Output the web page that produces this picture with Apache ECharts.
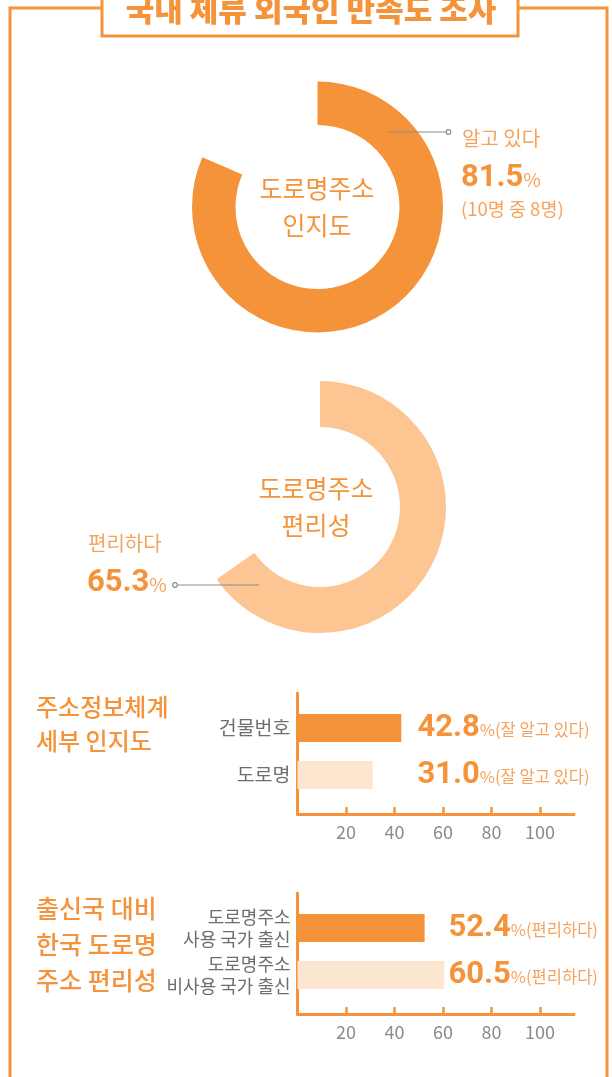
<!DOCTYPE html>
<html>
<head>
<meta charset="utf-8">
<script src="https://cdn.jsdelivr.net/npm/echarts@6/dist/echarts.min.js"></script>
<style>
  html, body { margin: 0; padding: 0; background: #fff; }
  #chart { width: 612px; height: 1077px; }
</style>
</head>
<body>
<div id="chart"></div>
<script>
  // 데이터
  var awareness = [81.5, 18.5];          // 도로명주소 인지도: 알고 있다 / 나머지
  var awarenessNote = '(10명 중 8명)';
  var convenience = [65.3, 34.7];        // 도로명주소 편리성: 편리하다 / 나머지
  var detailCats = ['건물번호', '도로명'];
  var detailValues = [42.8, 31.0];
  var detailSuffix = '잘 알고 있다';
  var originCats = ['도로명주소\n사용 국가 출신', '도로명주소\n비사용 국가 출신'];
  var originValues = [52.4, 60.5];
  var originSuffix = '편리하다';
  var xTicks = [20, 40, 60, 80, 100];

  var ORANGE = '#F5933A';
  var LIGHT = '#FCC592';
  var PALE = '#FDE6CF';
  var SOFT = '#F5A35C';
  var GRAY = '#6e6e6e';
  var FONT = '"Noto Sans CJK KR", "Noto Sans", sans-serif';
  var NUM = 'Roboto, "Noto Sans CJK KR", sans-serif';

  var myChart = echarts.init(document.getElementById('chart'), null, {renderer: 'canvas'});

  function axisGrid(gi) {
    return {
      x: {
        gridIndex: gi, type: 'value', min: 0, max: 114,
        axisLine: {show: true, lineStyle: {color: ORANGE, width: 3}},
        axisTick: {show: true, inside: true, length: 7, customValues: xTicks,
          lineStyle: {color: ORANGE, width: 2.5}},
        axisLabel: {show: true, customValues: xTicks, color: '#8a8a8a',
          fontSize: 18, fontFamily: FONT, margin: 9},
        splitLine: {show: false}
      },
      y: {
        gridIndex: gi, type: 'value', min: 0, max: 1,
        axisLine: {show: true, lineStyle: {color: ORANGE, width: 3}},
        axisTick: {show: false}, axisLabel: {show: false}, splitLine: {show: false}
      }
    };
  }

  function barAxes(gi, cats, fs, lh) {
    return {
      x: {gridIndex: gi, type: 'value', min: 0, max: 114, show: false},
      y: {
        gridIndex: gi, type: 'category', data: cats, inverse: true,
        axisLine: {show: false}, axisTick: {show: false},
        axisLabel: {color: GRAY, fontSize: fs, lineHeight: lh, fontFamily: FONT, margin: 7}
      }
    };
  }

  function barSeries(gi, values, suffix, labelX) {
    return {
      type: 'bar', xAxisIndex: gi, yAxisIndex: gi, barWidth: 28, silent: true,
      data: values.map(function (v, i) {
        return {value: v, itemStyle: {color: i === 0 ? ORANGE : PALE}};
      }),
      label: {
        show: true, position: [labelX, '50%'], align: 'left', verticalAlign: 'middle',
        formatter: function (p) { return '{v|' + p.value.toFixed(1) + '}{s|%(' + suffix + ')}'; },
        rich: {
          v: {fontSize: 31, fontWeight: 'bold', color: ORANGE, fontFamily: NUM},
          s: {fontSize: 16.5, color: SOFT, fontFamily: FONT, padding: [4, 0, 0, 0]}
        }
      }
    };
  }

  var a0 = axisGrid(0), b1 = barAxes(1, detailCats, 19.5, 22);
  var a2 = axisGrid(2), b3 = barAxes(3, originCats, 18, 22);

  var pieBase = {
    type: 'pie', startAngle: 90, clockwise: true, silent: true,
    label: {show: false}, labelLine: {show: false}, emphasis: {disabled: true}
  };

  function centerText(x, y, lines) {
    return {
      type: 'text', x: x, y: y,
      style: {text: lines, fill: ORANGE, font: '25px ' + FONT, align: 'center',
        verticalAlign: 'middle', lineHeight: 37}
    };
  }

  function bigValue(x, y, v) {
    return {type: 'text', x: x, y: y,
      style: {text: '{v|' + v.toFixed(1) + '}{s|%}', verticalAlign: 'middle',
        rich: {v: {fontSize: 31, fontWeight: 'bold', fill: ORANGE, fontFamily: NUM},
               s: {fontSize: 19, fill: SOFT, fontFamily: FONT, padding: [4, 0, 0, 0]}}}};
  }

  var option = {
    animation: false,
    grid: [
      {left: 297.5, top: 693, width: 276.5, height: 121},
      {left: 297.5, top: 704.5, width: 276.5, height: 94},
      {left: 297.5, top: 893, width: 276.5, height: 121},
      {left: 297.5, top: 904.5, width: 276.5, height: 94}
    ],
    xAxis: [a0.x, b1.x, a2.x, b3.x],
    yAxis: [a0.y, b1.y, a2.y, b3.y],
    series: [
      Object.assign({}, pieBase, {
        center: [317.5, 207], radius: [82, 125.5],
        data: [{value: awareness[0], itemStyle: {color: ORANGE}},
               {value: awareness[1], itemStyle: {color: 'rgba(0,0,0,0)'}}]
      }),
      Object.assign({}, pieBase, {
        center: [320, 507], radius: [80, 126],
        data: [{value: convenience[0], itemStyle: {color: LIGHT}},
               {value: convenience[1], itemStyle: {color: 'rgba(0,0,0,0)'}}]
      }),
      barSeries(1, detailValues, detailSuffix, 120),
      barSeries(3, originValues, originSuffix, 151)
    ],
    graphic: [
      // 테두리
      {type: 'rect', shape: {x: 10, y: 8, width: 597, height: 1120},
        style: {fill: 'none', stroke: ORANGE, lineWidth: 3}, z: 1},
      {type: 'rect', shape: {x: 102, y: -20, width: 416, height: 56},
        style: {fill: '#fff', stroke: ORANGE, lineWidth: 3}, z: 2},
      {type: 'text', x: 311, y: 9, z: 3,
        style: {text: '국내 체류 외국인 만족도 조사', fill: ORANGE,
          font: '900 31px ' + FONT, align: 'center', verticalAlign: 'middle'}},

      // 인지도 도넛
      centerText(317, 207, '도로명주소\n인지도'),
      {type: 'line', shape: {x1: 389, y1: 132, x2: 446, y2: 132},
        style: {stroke: '#8c8c8c', lineWidth: 1.2}, z: 5},
      {type: 'circle', shape: {cx: 448.5, cy: 132, r: 2.3},
        style: {fill: '#fff', stroke: '#8c8c8c', lineWidth: 1.2}, z: 5},
      {type: 'text', x: 462, y: 138,
        style: {text: '알고 있다', fill: SOFT, font: '20px ' + FONT, verticalAlign: 'middle'}},
      bigValue(461, 178, awareness[0]),
      {type: 'text', x: 461, y: 209,
        style: {text: awarenessNote, fill: SOFT, font: '18.5px ' + FONT, verticalAlign: 'middle'}},

      // 편리성 도넛
      centerText(316, 507, '도로명주소\n편리성'),
      {type: 'text', x: 88, y: 543,
        style: {text: '편리하다', fill: SOFT, font: '20px ' + FONT, verticalAlign: 'middle'}},
      bigValue(87, 583, convenience[0]),
      {type: 'circle', shape: {cx: 175, cy: 585, r: 2.3},
        style: {fill: '#fff', stroke: '#8c8c8c', lineWidth: 1.2}, z: 5},
      {type: 'line', shape: {x1: 177.5, y1: 585, x2: 259, y2: 585},
        style: {stroke: '#8c8c8c', lineWidth: 1.2}, z: 5},

      // 막대 차트 제목
      {type: 'text', x: 36, y: 724,
        style: {text: '주소정보체계\n세부 인지도', fill: ORANGE, font: '500 24px ' + FONT,
          verticalAlign: 'middle', lineHeight: 34}},
      {type: 'text', x: 36, y: 944,
        style: {text: '출신국 대비\n한국 도로명\n주소 편리성', fill: ORANGE, font: '500 25px ' + FONT,
          verticalAlign: 'middle', lineHeight: 36}}
    ]
  };

  myChart.setOption(option);
</script>
</body>
</html>
